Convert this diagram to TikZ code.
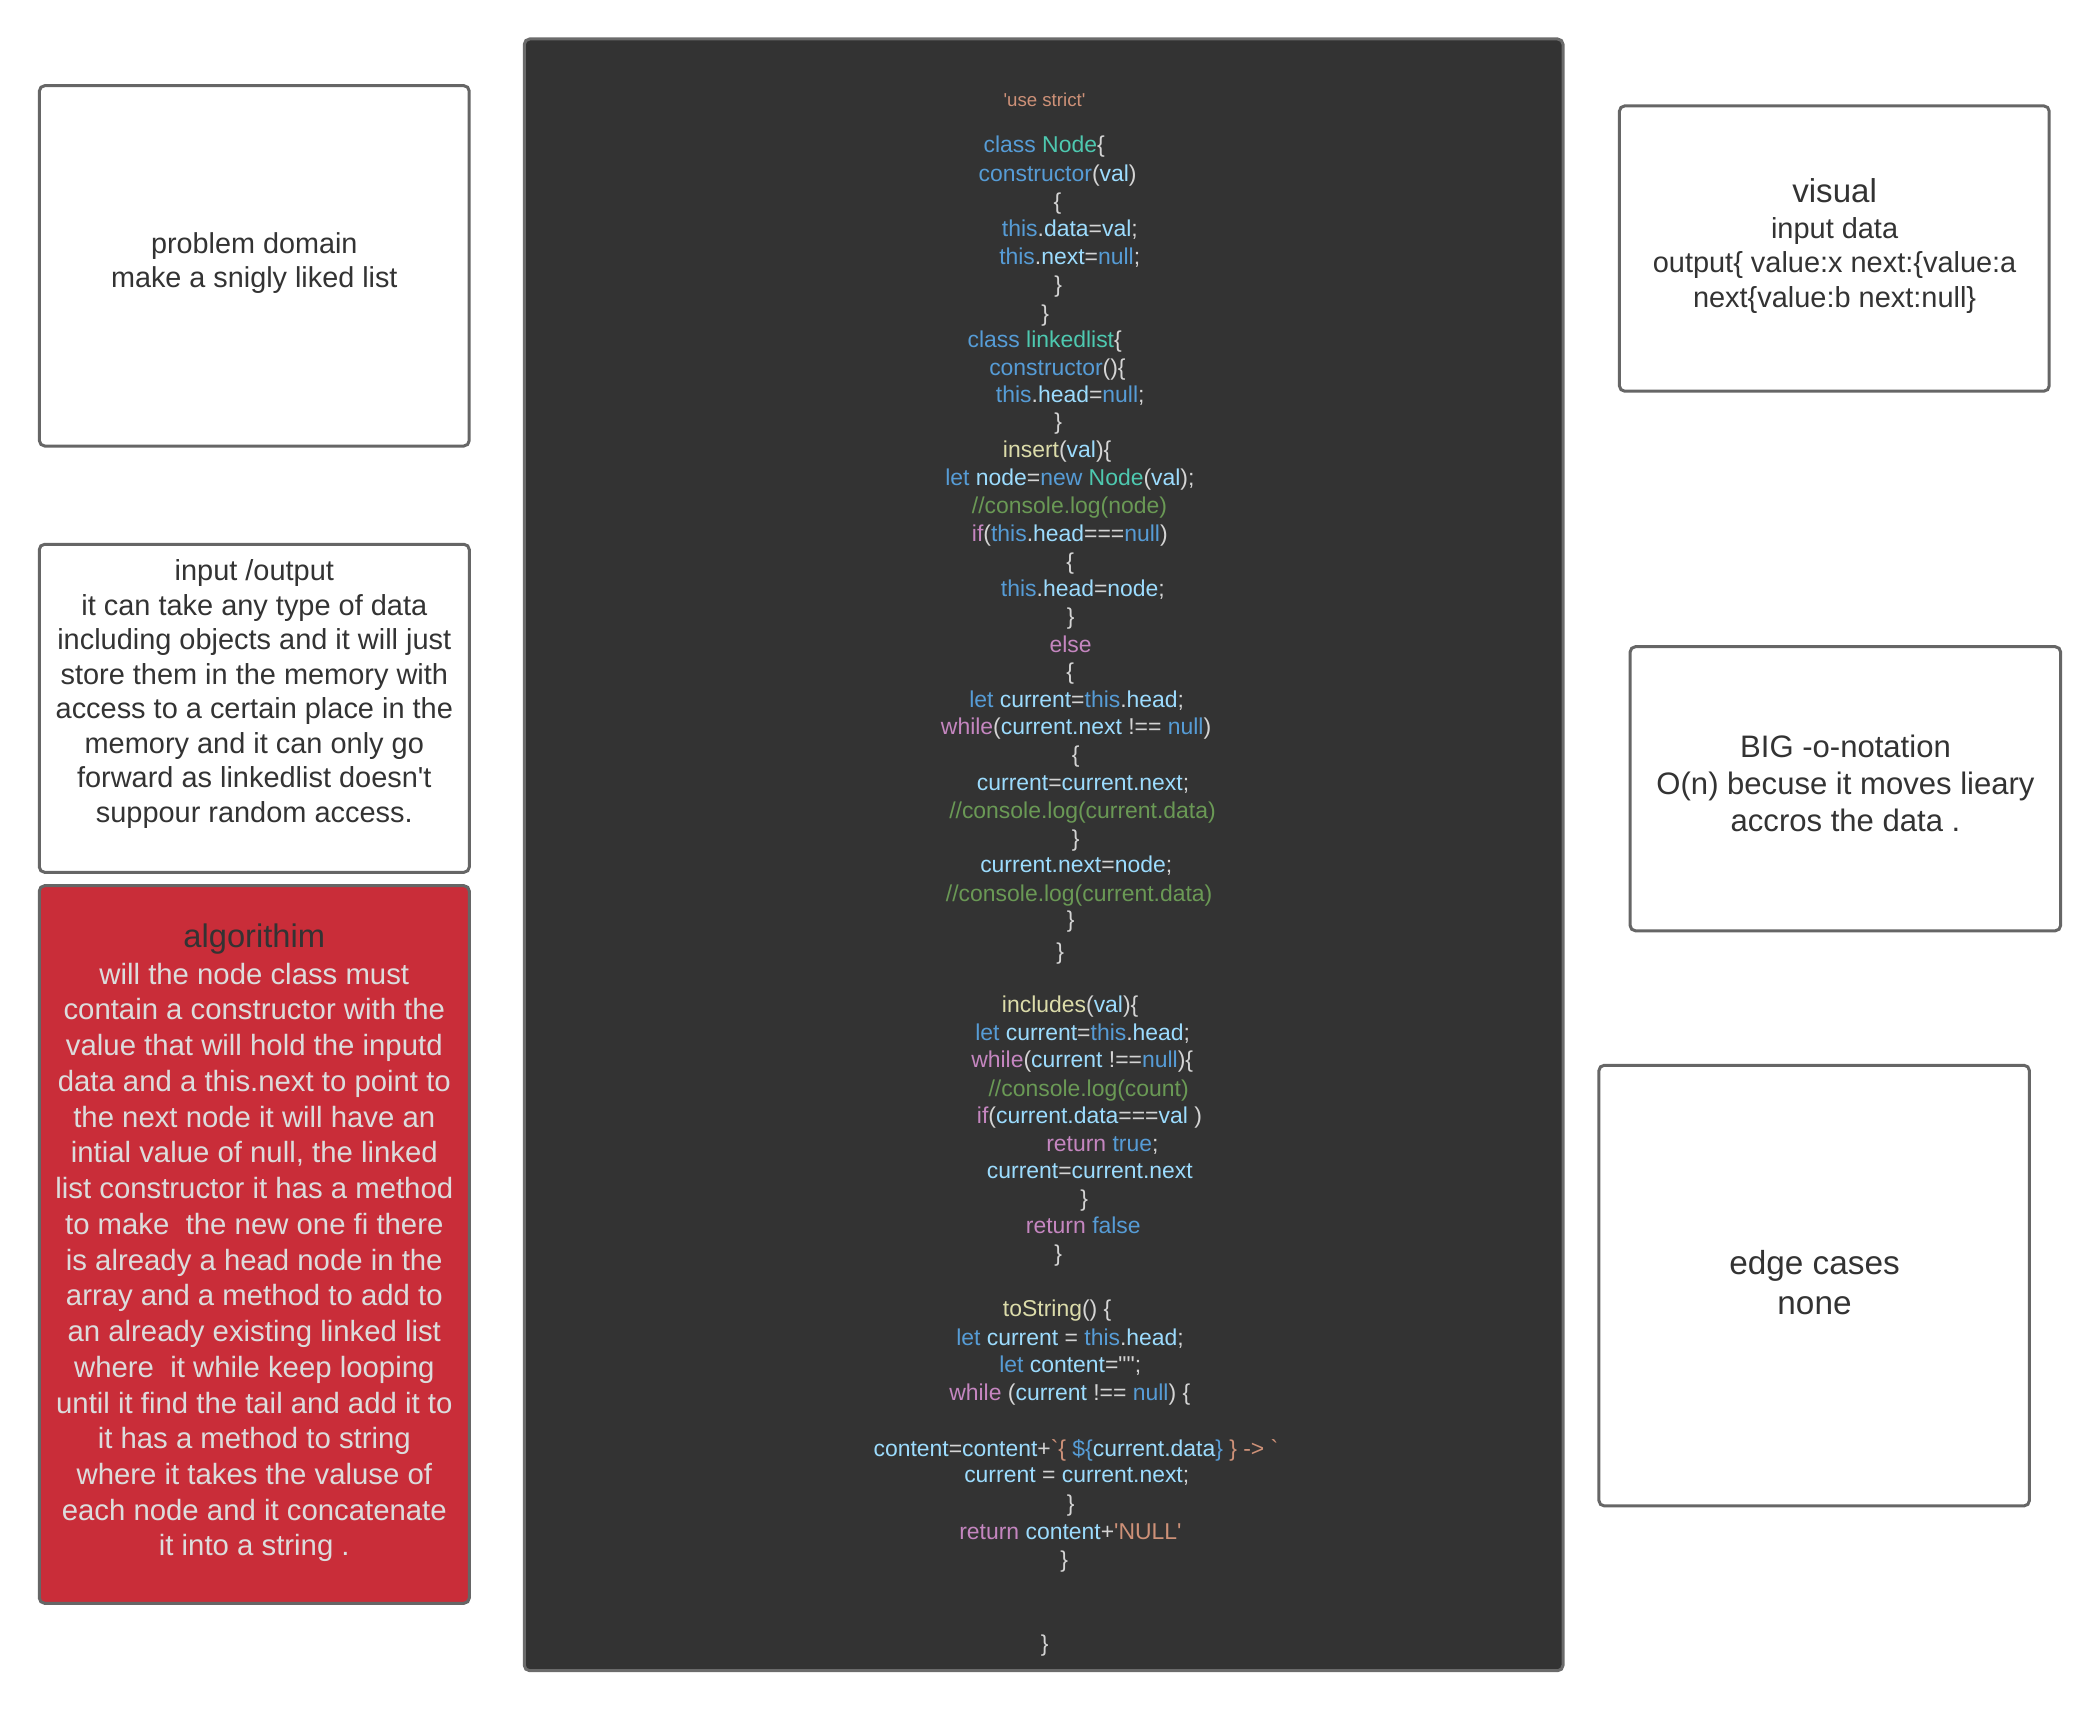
\documentclass[tikz,border=0pt]{standalone}
\usepackage{fontspec}
\usetikzlibrary{fit}
\newfontfamily\lib{Liberation Sans}
\definecolor{ckw}{HTML}{569CD6}
\definecolor{ccls}{HTML}{4EC9B0}
\definecolor{cvar}{HTML}{9CDCFE}
\definecolor{cfn}{HTML}{DCDCAA}
\definecolor{cctl}{HTML}{C586C0}
\definecolor{ccom}{HTML}{6A9955}
\definecolor{cstr}{HTML}{CE9178}
\definecolor{cpun}{HTML}{D4D4D4}
\definecolor{panelbg}{HTML}{333333}
\definecolor{panelline}{HTML}{6B6B6B}
\definecolor{boxline}{HTML}{666666}
\definecolor{txtdark}{HTML}{333333}
\definecolor{algred}{HTML}{C92D39}
\definecolor{algtxt}{HTML}{DCDCDC}
\newcommand\jsKw[1]{\textcolor{ckw}{#1}}
\newcommand\jsCl[1]{\textcolor{ccls}{#1}}
\newcommand\jsVr[1]{\textcolor{cvar}{#1}}
\newcommand\jsFn[1]{\textcolor{cfn}{#1}}
\newcommand\jsCt[1]{\textcolor{cctl}{#1}}
\newcommand\jsCm[1]{\textcolor{ccom}{#1}}
\newcommand\jsSt[1]{\textcolor{cstr}{#1}}
\tikzset{
  box/.style={draw=boxline, line width=2.25pt, rounded corners=4pt, inner sep=0pt},
  panel/.style={draw=panelline, fill=panelbg, line width=2.25pt, rounded corners=4pt, inner sep=0pt},
  codeline/.style={anchor=mid west, inner sep=0pt, text=cpun, font=\lib\fontsize{17.2}{20.6}\selectfont},
  boxtext/.style={inner sep=0pt, align=center, text=txtdark},
}
\begin{document}
\begin{tikzpicture}[x=0.75pt, y=-0.75pt]
\useasboundingbox (0,0) rectangle (2100,1712);
% boxes
\node[box, fit={(39.4,85.7) (469.2,446)}] (pd) {};
\node[box, fit={(39.3,544.3) (469.3,872.3)}] (io) {};
\node[box, fill=algred, fit={(39.3,885.7) (469.3,1603.3)}] (alg) {};
\node[panel, fit={(524.3,39) (1563,1670.7)}] (code) {};
\node[box, fit={(1619.4,105.9) (2049.2,391.2)}] (vis) {};
\node[box, fit={(1630.1,646.7) (2060.6,930.8)}] (big) {};
\node[box, fit={(1598.9,1065.3) (2029.4,1505.9)}] (edge) {};
% box texts
\node[boxtext, font=\lib\fontsize{21.6}{25}\selectfont] (pdt) at (254.3,263) {problem domain\\make a snigly liked list};
\node[boxtext, font=\lib\fontsize{21.7}{25.9}\selectfont] (iot) at (254.3,694) {input /output\\it can take any type of data\\including objects and it will just\\store them in the memory with\\access to a certain place in the\\memory and it can only go\\forward as linkedlist doesn't\\suppour random access.};
\node[boxtext, font=\lib\fontsize{24.5}{29}\selectfont] (algh) at (254.3,939) {algorithim};
\node[boxtext, text=algtxt, font=\lib\fontsize{22}{26.8}\selectfont] (algt) at (254.3,1262.5) {will the node class must\\contain a constructor with the\\value that will hold the inputd\\data and a this.next to point to\\the next node it will have an\\intial value of null, the linked\\list constructor it has a method\\to make \ the new one fi there\\is already a head node in the\\array and a method to add to\\an already existing linked list\\where \ it while keep looping\\until it find the tail and add it to\\it has a method to string\\where it takes the valuse of\\each node and it concatenate\\it into a string .};
\node[boxtext, font=\lib\fontsize{24.8}{29}\selectfont] (vish) at (1834.6,191) {visual};
\node[boxtext, font=\lib\fontsize{21.7}{26.1}\selectfont] (vist) at (1834.6,265.5) {input data\\output\{ value:x next:\{value:a\\next\{value:b next:null\}};
\node[boxtext, font=\lib\fontsize{23.3}{28}\selectfont] (bigt) at (1845.5,783.3) {BIG -o-notation\\O(n) becuse it moves lieary\\accros the data .};
\node[boxtext, font=\lib\fontsize{25}{30}\selectfont] (edget) at (1814.5,1283) {edge cases\\none};
% code
\begin{scope}[yshift=-3.75pt]
\node[codeline, text=cstr, font=\lib\fontsize{14}{17}\selectfont] (c1) at (1003.3,98.3) {'use strict'};
\node[codeline] (c2) at (983.3,145) {\jsKw{class} \jsCl{Node}\{};
\node[codeline] (c3) at (978.3,173.3) {\jsKw{constructor}(\jsVr{val})};
\node[codeline] (c4) at (1053.3,201.7) {\{};
\node[codeline] (c5) at (1001.7,228.3) {\jsKw{this}.\jsVr{data}=\jsVr{val};};
\node[codeline] (c6) at (999,256.7) {\jsKw{this}.\jsVr{next}=\jsKw{null};};
\node[codeline] (c7) at (1054,285) {\}};
\node[codeline] (c8) at (1041,313.3) {\}};
\node[codeline] (c9) at (967.3,339.3) {\jsKw{class} \jsCl{linkedlist}\{};
\node[codeline] (c10) at (989,367.3) {\jsKw{constructor}()\{};
\node[codeline] (c11) at (995.7,395) {\jsKw{this}.\jsVr{head}=\jsKw{null};};
\node[codeline] (c12) at (1054,421.7) {\}};
\node[codeline] (c13) at (1002.7,450) {\jsFn{insert}(\jsVr{val})\{};
\node[codeline] (c14) at (945,477.7) {\jsKw{let} \jsVr{node}=\jsKw{new} \jsCl{Node}(\jsVr{val});};
\node[codeline] (c15) at (971.7,506) {\jsCm{//console.log(node)}};
\node[codeline] (c16) at (971.7,533.3) {\jsCt{if}(\jsKw{this}.\jsVr{head}===\jsKw{null})};
\node[codeline] (c17) at (1066,561.7) {\{};
\node[codeline] (c18) at (1000.7,588.3) {\jsKw{this}.\jsVr{head}=\jsVr{node};};
\node[codeline] (c19) at (1066.7,616.7) {\}};
\node[codeline] (c20) at (1049.3,644.3) {\jsCt{else}};
\node[codeline] (c21) at (1066,671.7) {\{};
\node[codeline] (c22) at (969,699.3) {\jsKw{let} \jsVr{current}=\jsKw{this}.\jsVr{head};};
\node[codeline] (c23) at (940.7,726.7) {\jsCt{while}(\jsVr{current.next} !== \jsKw{null})};
\node[codeline] (c24) at (1071.7,755) {\{};
\node[codeline] (c25) at (976.7,782.7) {\jsVr{current}=\jsVr{current.next};};
\node[codeline] (c26) at (949,810.7) {\jsCm{//console.log(current.data)}};
\node[codeline] (c27) at (1071.7,838.3) {\}};
\node[codeline] (c28) at (980,865) {\jsVr{current.next}=\jsVr{node};};
\node[codeline] (c29) at (945.7,893.3) {\jsCm{//console.log(current.data)}};
\node[codeline] (c30) at (1066.7,920) {\}};
\node[codeline] (c31) at (1056,951.7) {\}};
\node[codeline] (c32) at (1001.7,1005) {\jsFn{includes}(\jsVr{val})\{};
\node[codeline] (c33) at (975,1032.7) {\jsKw{let} \jsVr{current}=\jsKw{this}.\jsVr{head};};
\node[codeline] (c34) at (971,1060) {\jsCt{while}(\jsVr{current} !==\jsKw{null})\{};
\node[codeline] (c35) at (988.3,1088.3) {\jsCm{//console.log(count)}};
\node[codeline] (c36) at (976.7,1116) {\jsCt{if}(\jsVr{current.data}===\jsVr{val} )};
\node[codeline] (c37) at (1046,1144) {\jsCt{return} \jsKw{true};};
\node[codeline] (c38) at (986.7,1170.7) {\jsVr{current}=\jsVr{current.next}};
\node[codeline] (c39) at (1080,1198.3) {\}};
\node[codeline] (c40) at (1025.7,1226) {\jsCt{return} \jsKw{false}};
\node[codeline] (c41) at (1054,1253.3) {\}};
\node[codeline] (c42) at (1002.7,1309) {\jsFn{toString}() \{};
\node[codeline] (c43) at (956,1337.3) {\jsKw{let} \jsVr{current} = \jsKw{this}.\jsVr{head};};
\node[codeline] (c44) at (999,1365) {\jsKw{let} \jsVr{content}="";};
\node[codeline] (c45) at (949,1392.7) {\jsCt{while} (\jsVr{current} !== \jsKw{null}) \{};
\node[codeline] (c46) at (873.3,1448.3) {\jsVr{content}=\jsVr{content}+\jsSt{`\{}\ \jsKw{\$\{}\jsVr{current.data}\jsKw{\}}\ \jsSt{\} -> `}};
\node[codeline] (c47) at (964,1475) {\jsVr{current} = \jsVr{current.next};};
\node[codeline] (c48) at (1066.7,1504) {\}};
\node[codeline] (c49) at (959,1531.7) {\jsCt{return} \jsVr{content}+\jsSt{'NULL'}};
\node[codeline] (c50) at (1060,1560) {\}};
\node[codeline] (c51) at (1040.7,1643.3) {\}};
\end{scope}
\end{tikzpicture}
\end{document}
